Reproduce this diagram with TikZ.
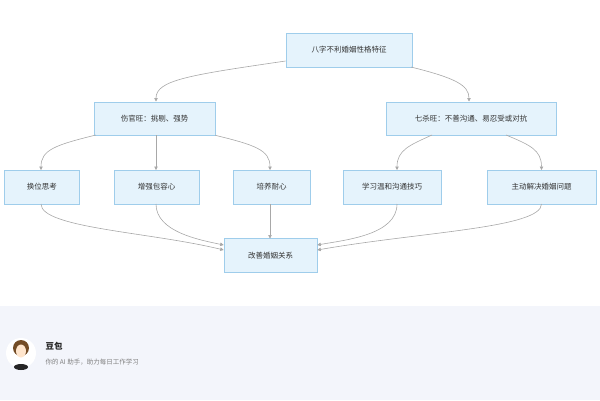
\documentclass[tikz,border=0pt]{standalone}
\usepackage{fontspec}
\setmainfont{Noto Sans CJK SC}
\usetikzlibrary{arrows.meta}
\definecolor{boxfill}{HTML}{E5F3FC}
\definecolor{boxline}{HTML}{9FCDEB}
\definecolor{edge}{HTML}{A8A8A8}
\definecolor{foot}{HTML}{F3F5FB}
\begin{document}
\begin{tikzpicture}[x=1pt,y=-1pt,
  box/.style={draw=boxline,fill=boxfill,line width=0.6pt,inner sep=0pt,font=\fontsize{7.5}{9}\selectfont,text=black!80},
  conn/.style={draw=edge,line width=0.6pt,-{Triangle[length=3.5pt,width=3.5pt]}}]
\useasboundingbox (0,0) rectangle (600,400);
\fill[foot] (0,306) rectangle (600,400);
\node[box,minimum width=126pt,minimum height=34pt] (top) at (349,50) {八字不利婚姻性格特征};
\node[box,minimum width=121pt,minimum height=33pt] (l) at (154.5,118.5) {伤官旺：挑剔、强势};
\node[box,minimum width=170pt,minimum height=33pt] (r) at (471,118.5) {七杀旺：不善沟通、易忍受或对抗};
\node[box,minimum width=75pt,minimum height=34pt] (a) at (42,187) {换位思考};
\node[box,minimum width=85pt,minimum height=34pt] (b) at (156.5,187) {增强包容心};
\node[box,minimum width=77pt,minimum height=34pt] (c) at (271.5,187) {培养耐心};
\node[box,minimum width=98pt,minimum height=34pt] (d) at (392,187) {学习温和沟通技巧};
\node[box,minimum width=109pt,minimum height=34pt] (e) at (541.5,187) {主动解决婚姻问题};
\node[box,minimum width=93pt,minimum height=34pt] (f) at (270.5,255.5) {改善婚姻关系};
\draw[conn] (top.west |- 0,61) .. controls (190,75) and (156,80) .. (156,101.5);
\draw[conn] (411,67) .. controls (455,78) and (469,85) .. (469,101.5);
\draw[conn] (96,135) .. controls (55,145) and (41,150) .. (41,170);
\draw[conn] (156,135) -- (156,170);
\draw[conn] (l.south east) .. controls (255,145) and (270,150) .. (270,170);
\draw[conn] (432,135) .. controls (410,145) and (397,150) .. (397,170);
\draw[conn] (506,135) .. controls (530,145) and (541.5,150) .. (541.5,170);
\draw[conn] (41,204) .. controls (41,228) and (150,232) .. (f.west |- 0,250);
\draw[conn] (156,204) .. controls (156,232) and (200,240) .. (f.west |- 0,245);
\draw[conn] (270,204) -- (270,238.5);
\draw[conn] (397,204) .. controls (397,235) and (345,240) .. (f.east |- 0,245);
\draw[conn] (541.5,204) .. controls (541.5,228) and (420,232) .. (f.east |- 0,250);
\fill[white] (21,353) circle (15);
\fill[brown!60!black] (21,348) circle (8);
\fill[orange!20] (21,351) ellipse (5 and 6.5);
\fill[black!85] (21,367) ellipse (7 and 3);
\node[anchor=west,font=\fontsize{8.5}{10}\selectfont\bfseries,text=black!85] (t1) at (42,346) {豆包};
\node[anchor=west,font=\fontsize{6.5}{8}\selectfont,text=black!50] (t2) at (42,362) {你的 AI 助手，助力每日工作学习};
\end{tikzpicture}
\end{document}
